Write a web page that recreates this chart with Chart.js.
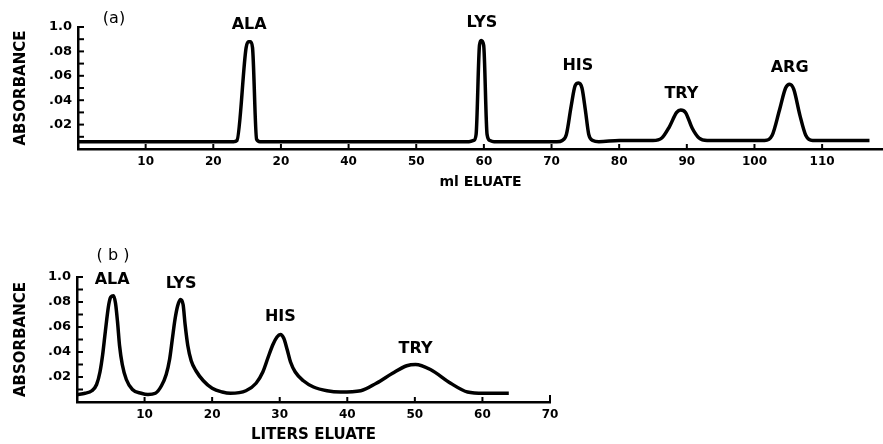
<!DOCTYPE html>
<html>
<head>
<meta charset="utf-8">
<title>Amino acid elution profiles</title>
<script src="https://cdn.jsdelivr.net/npm/chart.js@4.4.0/dist/chart.umd.min.js"></script>
<style>
    body { margin: 0; background: #fff; }
    #wrap { position: relative; width: 883px; height: 444px; overflow: hidden; background: #fff; }
    #chartA { position: absolute; left: 0; top: 0; }
    #chartB { position: absolute; left: 0; top: 240px; }
</style>
</head>
<body>
<div id="wrap">
    <canvas id="chartA" width="883" height="200"></canvas>
    <canvas id="chartB" width="600" height="204"></canvas>
</div>
<script>
// Panel (a) - ml eluate
const aEluate = [0, 10, 20, 23.0, 23.5, 24.85, 25.2, 25.5, 25.8, 26.4, 26.9,
    40, 50, 57.8, 58.5, 58.85, 59.35, 59.6, 59.97, 60.47, 60.9, 61.5,
    66, 70.8, 71.6, 72.2, 72.9, 73.5, 74.0, 74.5, 75.0, 75.5, 76.1, 77,
    80, 85, 86.3, 87.4, 88.5, 89.1, 89.8, 90.8, 91.8, 93,
    97, 101.5, 102.6, 103.7, 104.6, 105.2, 105.8, 106.7, 107.6, 108.6, 113, 117];
const aAbsorbance = [0.006, 0.006, 0.006, 0.006, 0.007, 0.083, 0.088, 0.088, 0.083, 0.008, 0.006,
    0.006, 0.006, 0.006, 0.007, 0.012, 0.085, 0.089, 0.085, 0.012, 0.007, 0.006,
    0.006, 0.006, 0.007, 0.012, 0.035, 0.052, 0.054, 0.05, 0.032, 0.012, 0.007, 0.006,
    0.007, 0.007, 0.009, 0.018, 0.030, 0.032, 0.030, 0.017, 0.009, 0.007,
    0.007, 0.007, 0.011, 0.032, 0.050, 0.053, 0.049, 0.028, 0.011, 0.007, 0.007, 0.007];
const aPeakNames = ['ALA', 'LYS', 'HIS', 'TRY', 'ARG'];
const aPeakX = [25.3, 59.7, 73.9, 89.2, 105.2];
const aPeakY = [0.089, 0.090, 0.055, 0.032, 0.053];
const aXTickLabels = ['', '10', '20', '20', '40', '50', '60', '70', '80', '90', '100', '110'];

// Panel (b) - liters eluate
const bEluate = [0, 1.2, 2.2, 2.9, 3.4, 3.8, 4.1, 4.4, 4.7, 5.0, 5.4, 5.7, 6.0, 6.3, 6.7, 7.3, 8.2, 9.5, 10.5,
    11.6, 12.5, 13.2, 13.7, 14.1, 14.5, 14.9, 15.3, 15.7, 16.0, 16.4, 16.9, 17.6, 18.7, 20.0, 21.5, 22.7,
    25.0, 26.5, 27.5, 28.3, 29.0, 29.6, 30.1, 30.6, 31.1, 31.6, 32.3, 33.5, 35.0, 37.0, 39.0,
    42, 44.3, 46.7, 48.8, 50.1, 52.3, 55.3, 57.8, 60.2, 63.9];
const bAbsorbance = [0.006, 0.007, 0.009, 0.014, 0.024, 0.038, 0.052, 0.066, 0.078, 0.084, 0.085, 0.079, 0.064, 0.045, 0.030, 0.018, 0.010, 0.007, 0.006,
    0.007, 0.013, 0.022, 0.034, 0.050, 0.066, 0.077, 0.082, 0.078, 0.062, 0.045, 0.033, 0.025, 0.017, 0.011, 0.008, 0.007,
    0.009, 0.015, 0.024, 0.036, 0.046, 0.052, 0.054, 0.051, 0.042, 0.032, 0.024, 0.017, 0.012, 0.009, 0.008,
    0.009, 0.015, 0.023, 0.029, 0.030, 0.026, 0.015, 0.008, 0.007, 0.007];
const bPeakNames = ['ALA', 'LYS', 'HIS', 'TRY'];
const bPeakX = [5.2, 15.4, 30.1, 50.1];
const bPeakY = [0.085, 0.082, 0.055, 0.030];
const bXTickLabels = ['', '10', '20', '30', '40', '50', '60', '70'];

// y axis labels, indexed by hundredths
const yTickLabels = ['', '', '.02', '', '.04', '', '.06', '', '.08', '', '1.0'];

const FONT = "'DejaVu Sans', 'Liberation Sans', sans-serif";

// ticks drawn inward from the axis lines, plus peak names and panel tag
const scanDecor = {
    id: 'scanDecor',
    afterDraw(chart, args, opts) {
        const ctx = chart.ctx;
        const xs = chart.scales.x;
        const ys = chart.scales.y;
        const area = chart.chartArea;
        ctx.save();
        ctx.strokeStyle = '#000';
        ctx.lineWidth = 2;
        xs.ticks.forEach(t => {
            if (t.value <= 0) return;
            const px = xs.getPixelForValue(t.value);
            ctx.beginPath();
            ctx.moveTo(px, area.bottom);
            ctx.lineTo(px, area.bottom - (t.value === xs.max ? 7 : 5));
            ctx.stroke();
        });
        ys.ticks.forEach(t => {
            if (t.value <= 0.0001) return;
            const py = ys.getPixelForValue(t.value);
            ctx.beginPath();
            ctx.moveTo(area.left, py);
            ctx.lineTo(area.left + 6, py);
            ctx.stroke();
        });
        ctx.fillStyle = '#000';
        ctx.textAlign = 'center';
        ctx.textBaseline = 'middle';
        ctx.font = 'bold 16px ' + FONT;
        opts.names.forEach((name, i) => {
            const px = xs.getPixelForValue(opts.px[i]);
            const py = ys.getPixelForValue(opts.py[i]);
            ctx.fillText(name, px, py - 16);
        });
        ctx.font = '16px ' + FONT;
        ctx.fillText(opts.tag, area.left + 36, area.top - opts.tagLift);
        ctx.restore();
    }
};

function makeChart(canvasId, xs, ys, cfg) {
    const el = document.getElementById(canvasId);
    return new Chart(el, {
        type: 'line',
        data: {
            datasets: [{
                data: xs.map((x, i) => ({ x: x, y: ys[i] })),
                borderColor: '#000',
                borderWidth: 3.5,
                borderJoinStyle: 'round',
                pointRadius: 0,
                fill: false,
                cubicInterpolationMode: 'monotone'
            }]
        },
        options: {
            responsive: false,
            animation: false,
            devicePixelRatio: 1,
            layout: { padding: { top: cfg.padTop, right: cfg.padRight, left: 0, bottom: 0 } },
            plugins: {
                legend: { display: false },
                tooltip: { enabled: false },
                scanDecor: { names: cfg.names, px: cfg.peakX, py: cfg.peakY, tag: cfg.tag, tagLift: cfg.tagLift }
            },
            scales: {
                x: {
                    type: 'linear',
                    min: 0,
                    max: cfg.xMax,
                    grid: { display: false, drawTicks: false },
                    border: { display: true, color: '#000', width: 2.5 },
                    afterBuildTicks: s => { s.ticks = s.ticks.filter(t => t.value % 10 === 0); },
                    afterFit: s => { s.height = cfg.xHeight; },
                    ticks: {
                        stepSize: 10,
                        autoSkip: false,
                        maxRotation: 0,
                        padding: 6,
                        color: '#000',
                        font: { family: FONT, weight: 'bold', size: 12 },
                        callback: v => cfg.xLabels[Math.round(v / 10)] || ''
                    },
                    title: {
                        display: true,
                        text: cfg.xTitle,
                        color: '#000',
                        font: { family: FONT, weight: 'bold', size: cfg.xTitleSize },
                        padding: { top: 0, bottom: cfg.xTitlePad }
                    }
                },
                y: {
                    min: 0,
                    max: 0.1,
                    grid: { display: false, drawTicks: false },
                    border: { display: true, color: '#000', width: 2.5 },
                    afterFit: s => { s.width = cfg.yWidth; },
                    ticks: {
                        stepSize: 0.01,
                        autoSkip: false,
                        padding: 6,
                        color: '#000',
                        font: { family: FONT, weight: 'bold', size: 13 },
                        callback: v => yTickLabels[Math.round(v * 100)] || ''
                    },
                    title: {
                        display: true,
                        text: 'ABSORBANCE',
                        color: '#000',
                        font: { family: FONT, weight: 'bold', size: 15 },
                        padding: { top: 12, bottom: 0 }
                    }
                }
            }
        },
        plugins: [scanDecor]
    });
}

makeChart('chartA', aEluate, aAbsorbance, {
    padTop: 27, padRight: 0, xMax: 119, xHeight: 51, yWidth: 78,
    xLabels: aXTickLabels, xTitle: 'ml ELUATE', xTitleSize: 14, xTitlePad: 9,
    names: aPeakNames, peakX: aPeakX, peakY: aPeakY, tag: '(a)', tagLift: 8
});

makeChart('chartB', bEluate, bAbsorbance, {
    padTop: 37, padRight: 50, xMax: 70, xHeight: 42, yWidth: 77,
    xLabels: bXTickLabels, xTitle: 'LITERS ELUATE', xTitleSize: 15, xTitlePad: 0,
    names: bPeakNames, peakX: bPeakX, peakY: bPeakY, tag: '( b )', tagLift: 21
});
</script>
</body>
</html>
